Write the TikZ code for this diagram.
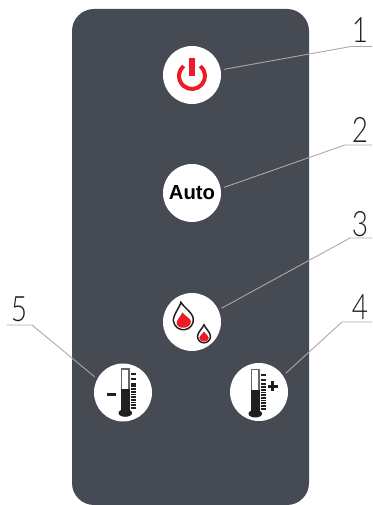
\documentclass[tikz,border=0pt]{standalone}
\usepackage{fontspec}
\setmainfont{Liberation Sans}
\newfontfamily\digitfont{Lato Light}
\usepackage{xcolor}
\usetikzlibrary{positioning,calc}
\definecolor{panelgray}{HTML}{464A52}
\definecolor{leadergray}{HTML}{A9A9A9}
\definecolor{iconred}{HTML}{ED1C24}
\definecolor{iconblack}{HTML}{231F20}

\begin{document}
\begin{tikzpicture}[
    x=1pt, y=1pt,
    button/.style={circle, fill=white, minimum size=58pt, inner sep=0pt, outer sep=3.5pt},
    leader/.style={draw=leadergray, line width=0.9pt},
    digit/.style={font=\digitfont\fontsize{35}{35}\selectfont, text=iconblack, inner sep=0pt, xscale=0.8},
    dropicon/.pic={
        \draw[iconblack, fill=white, line width=1.5pt]
            (0,1.72) .. controls (-0.2,1.2) and (-1,0.55) .. (-1,-0.05) arc (180:360:1)
            .. controls (1,0.55) and (0.2,1.2) .. (0,1.72) -- cycle;
        \fill[iconred] (0,0.68) .. controls (-0.2,0.35) and (-0.72,-0.02) .. (-0.72,-0.3)
            arc [start angle=180, end angle=360, x radius=0.72, y radius=0.55]
            .. controls (0.72,-0.02) and (0.2,0.35) .. (0,0.68) -- cycle;
    },
    thermo/.pic={
        \draw[draw=gray!80!black, fill=white, line width=1.2pt] (-3.6,0) rectangle (3.6,44);
        \fill[iconblack] (-4.2,0) rectangle (4.2,24);
        \fill[iconblack] (0,0) ellipse (6.8 and 3.8);
        \foreach \ty in {5,7.7,...,30} {
            \fill[iconblack] (5.4,\ty-0.9) rectangle (10.2,\ty+0.9);
        }
        \foreach \ty in {34,39} {
            \fill[iconblack] (5.4,\ty-1) rectangle (10.2,\ty+1);
        }
    }
]
    \useasboundingbox (0,0) rectangle (372,505);

    % --- 1. Panel ---
    \fill[panelgray, rounded corners=22pt] (72,0) rectangle (309,496);

    % --- 2. Buttons ---
    \node[button] (power) at (192,430) {};
    \node[button, font=\bfseries\fontsize{20.3}{20}\selectfont, text=black] (auto) at (192,312) {Auto};
    \node[button] (drops) at (192,183) {};
    \node[button] (minus) at (123,112.5) {};
    \node[button] (plus) at (259,113) {};

    % --- 3. Leader ends ---
    \coordinate (knee1) at (351,458.5);
    \coordinate (end1) at (372,458.5);
    \coordinate (knee2) at (345,360);
    \coordinate (end2) at (372,360);
    \coordinate (knee3) at (350,267);
    \coordinate (end3) at (372,267);
    \coordinate (knee4) at (342,183);
    \coordinate (end4) at (372,183);
    \coordinate (knee5) at (32,180);
    \coordinate (end5) at (7,180);

    \draw[leader] (power.10) -- (knee1) -- (end1);
    \draw[leader] (auto.10) -- (knee2) -- (end2);
    \draw[leader] (drops.25) -- (knee3) -- (end3);
    \draw[leader] (plus.35) -- (knee4) -- (end4);
    \draw[leader] (minus.151) -- (knee5) -- (end5);

    % --- 4. Numbers ---
    \node[digit, anchor=south] (num1) at (360,462) {1};
    \node[digit, anchor=south] (num2) at (360,362) {2};
    \node[digit, anchor=south] (num3) at (360,268) {3};
    \node[digit, anchor=south] (num4) at (360,185) {4};
    \node[digit, anchor=south] (num5) at (19,183) {5};

    % --- 5. Icons ---
    % power
    \draw[iconred, line width=4pt] (192,429) ++(50:13) arc (50:-230:13);
    \fill[iconred] (189,429) rectangle (195,447);

    % drops
    \pic[rotate=8, scale=10] at (183.3,185.7) {dropicon};
    \pic[scale=6.5] at (204,169) {dropicon};

    % thermometers
    \pic at (125.3,92) {thermo};
    \fill[iconblack] (107,109.3) rectangle (116,112);
    \pic at (255.3,91.3) {thermo};
    \fill[iconblack] (267.7,117.3) rectangle (277.7,120);
    \fill[iconblack] (271.3,113.7) rectangle (274.1,123.7);

\end{tikzpicture}
\end{document}
